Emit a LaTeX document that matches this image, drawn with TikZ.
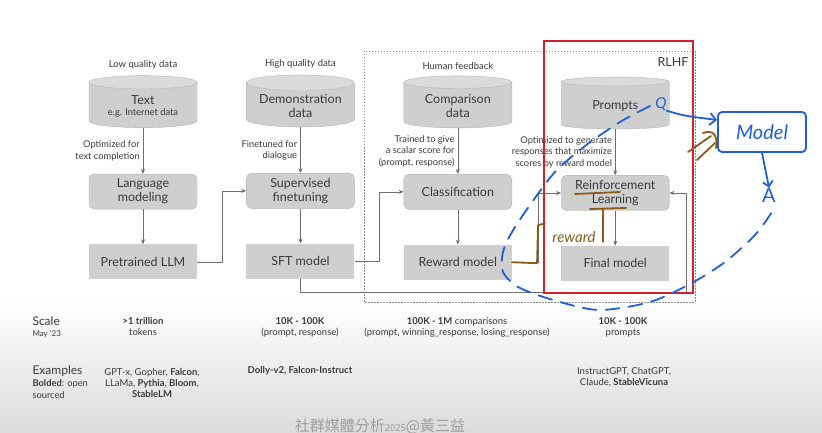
\documentclass[tikz,border=0pt]{standalone}
\usepackage{fontspec}
\setmainfont{Lato}
\newfontfamily\cjk{Noto Sans CJK TC}
\usetikzlibrary{positioning,arrows.meta,shapes.geometric,calc}
\definecolor{boxgray}{HTML}{CFCFCF}
\definecolor{edgegray}{HTML}{B3B3B3}
\definecolor{txtgray}{HTML}{3A3A3A}
\definecolor{linegray}{HTML}{6E6E6E}
\definecolor{inkblue}{HTML}{1F5FDB}
\definecolor{inkbrown}{HTML}{8E5A1C}
\definecolor{slidered}{HTML}{D6202A}
\tikzset{
  box/.style={fill=boxgray, draw=edgegray, align=center, minimum width=108pt, minimum height=35pt, inner sep=2pt, text=txtgray, font=\fontsize{12.5}{14}\selectfont},
  roundbox/.style={box, rounded corners=5pt},
  flatbox/.style={box, draw=none},
  datacyl/.style={cylinder, shape border rotate=90, aspect=0.18, draw=edgegray, cylinder uses custom fill, cylinder body fill=boxgray, cylinder end fill=boxgray!75, minimum width=108pt, minimum height=52pt, inner sep=2pt, align=center, text=txtgray, font=\fontsize{12.5}{14}\selectfont},
  head/.style={text=txtgray, font=\fontsize{9.5}{11}\selectfont},
  note/.style={text=txtgray, align=right, inner sep=3pt, font=\fontsize{9.3}{11.3}\selectfont},
  stat/.style={text=txtgray, align=center, font=\fontsize{9.5}{11}\selectfont},
  arr/.style={-{Stealth[length=5pt, width=4pt]}, draw=linegray, line width=0.6pt},
  ink/.style={draw=inkblue, line width=1.8pt, line cap=round, line join=round},
  brownink/.style={draw=inkbrown, line width=1.8pt, line cap=round, line join=round},
}

\begin{document}
\begin{tikzpicture}[x=1pt, y=-1pt, node distance=35pt and 49pt]
  \useasboundingbox (0,0) rectangle (822,433);
  \shade[top color=white, bottom color=black!14] (0,300) rectangle (822,433);

  % data stores
  \node[datacyl] (text) at (143,106) {Text\\[-3pt]{\fontsize{9.3}{10}\selectfont e.g. Internet data}};
  \node[datacyl, right=of text] (demo) {Demonstration\\data};
  \node[datacyl, right=of demo] (cmp) {Comparison\\data};
  \node[datacyl, right=of cmp] (prm) {Prompts};
  \node[head, above=3pt of text] (lq) {Low quality data};
  \node[head, above=3pt of demo] (hq) {High quality data};
  \node[head, above=3pt of cmp] (hf) {Human feedback};

  % training steps and models
  \node[roundbox, below=46pt of text] (lm) {Language\\modeling};
  \node[flatbox, below=of lm] (llm) {Pretrained LLM};
  \node[roundbox, below=46pt of demo] (sft) {Supervised\\finetuning};
  \node[flatbox, below=of sft] (sftm) {SFT model};
  \node[roundbox, below=46pt of cmp] (cls) {Classification};
  \node[flatbox, below=of cls] (rm) {Reward model};
  \node[roundbox, below=46pt of prm] (rl) {Reinforcement\\Learning};
  \node[flatbox, below=of rl] (final) {Final model};
  \coordinate (back) at ($(final.south east)+(17,11)$);

  \draw[arr] (text) -- node[note, left] {Optimized for\\text completion} (lm);
  \draw[arr] (demo) -- node[note, left] {Finetuned for\\dialogue} (sft);
  \draw[arr] (cmp) -- node[note, left] {Trained to give\\a scalar score for\\(prompt, response)} (cls);
  \draw[arr] (prm) -- node[note, left] {Optimized to generate\\responses that maximize\\scores by reward model} (rl);
  \foreach \a/\b in {lm/llm,sft/sftm,cls/rm,rl/final} \draw[arr] (\a) -- (\b);
  \draw[arr] (llm.east) -- ++(25,0) |- (sft.west);
  \draw[arr] (sftm.east) -- ++(25,0) |- (cls.west);
  \draw[arr] (rm.east) -- ++(26,0) |- (rl.west);
  \draw[arr] (sftm.south) |- (back) |- (rl.east);

  % RLHF frame
  \draw[black!45, line width=0.6pt, dash pattern=on 1.5pt off 1.5pt] (364,51) rectangle (695,302);
  \node[anchor=north east, text=txtgray, font=\fontsize{12.5}{14}\selectfont] (rlhf) at (692,54) {RLHF};
  \draw[slidered, line width=2pt] (544,41) rectangle (693,293);

  % scale and examples
  \node[anchor=west, align=left, text=txtgray] (scale) at (29,327) {{\fontsize{12}{13}\selectfont Scale}\\[-1pt]{\fontsize{8}{9}\selectfont May '23}};
  \node[stat] (s1) at (143,327) {\textbf{>1 trillion}\\tokens};
  \node[stat] (s2) at (300,327) {\textbf{10K - 100K}\\(prompt, response)};
  \node[stat] (s3) at (457,327) {\textbf{100K - 1M} comparisons\\(prompt, winning\_response, losing\_response)};
  \node[stat] (s4) at (623,327) {\textbf{10K - 100K}\\prompts};
  \node[anchor=west, align=left, text=txtgray, font=\fontsize{9.3}{12}\selectfont] (ex) at (29,382) {{\fontsize{12}{12}\selectfont Examples}\\\textbf{Bolded}: open\\sourced};
  \node[stat] (e1) at (152,383) {GPT-x, Gopher, \textbf{Falcon},\\LLaMa, \textbf{Pythia}, \textbf{Bloom},\\\textbf{StableLM}};
  \node[stat] (e2) at (300,371) {\textbf{Dolly-v2, Falcon-Instruct}};
  \node[stat] (e4) at (624,377) {InstructGPT, ChatGPT,\\Claude, \textbf{StableVicuna}};
  \node[text=black!38, font=\cjk\fontsize{15}{15}\selectfont] (wm) at (380,426) {社群媒體分析{\fontsize{9.5}{10}\selectfont 2025}@黃三益};

  % hand-drawn notes
  \node[text=inkblue, font=\itshape\fontsize{15}{15}\selectfont, inner sep=0pt] (q) at (661,104) {Q};
  \node[ink, rounded corners=4pt, minimum width=88pt, minimum height=40pt, text=inkblue, font=\itshape\fontsize{20}{20}\selectfont] (model) at (762,132) {Model};
  \node[text=inkblue, font=\fontsize{20}{20}\selectfont, inner sep=0pt] (ans) at (769,195) {A};
  \draw[ink, -{Straight Barb[length=6pt]}] (q.south east) .. controls (685,116) .. (model.165);
  \draw[ink, -{Straight Barb[length=5pt]}] (model.south) -- (ans.north);
  \draw[ink, dash pattern=on 14pt off 9pt] plot[smooth] coordinates {(650,106) (620,122) (585,146) (555,172) (530,205) (512,232) (503,252) (503,272) (520,288) (560,302) (600,310) (650,302) (690,284) (725,262) (755,235) (772,212)};
  \node[text=inkbrown, font=\itshape\fontsize{15}{15}\selectfont, inner sep=0pt] (rwd) at (574,237) {reward};
  \draw[brownink] (rm.east) -- ++(25,1) -- ++(1,-38) -- ++(7,-2);
  \draw[brownink] (603,209) -- (603,242);
  \draw[brownink] (575,194) -- (620,192);
  \draw[brownink] (590,209) -- (626,208);
  \draw[brownink] (688,152) -- (711,136);
  \draw[brownink] (697,160) -- (715,143);
  \draw[brownink] (703,133) .. controls (712,130) and (718,133) .. (716,148);
\end{tikzpicture}
\end{document}
